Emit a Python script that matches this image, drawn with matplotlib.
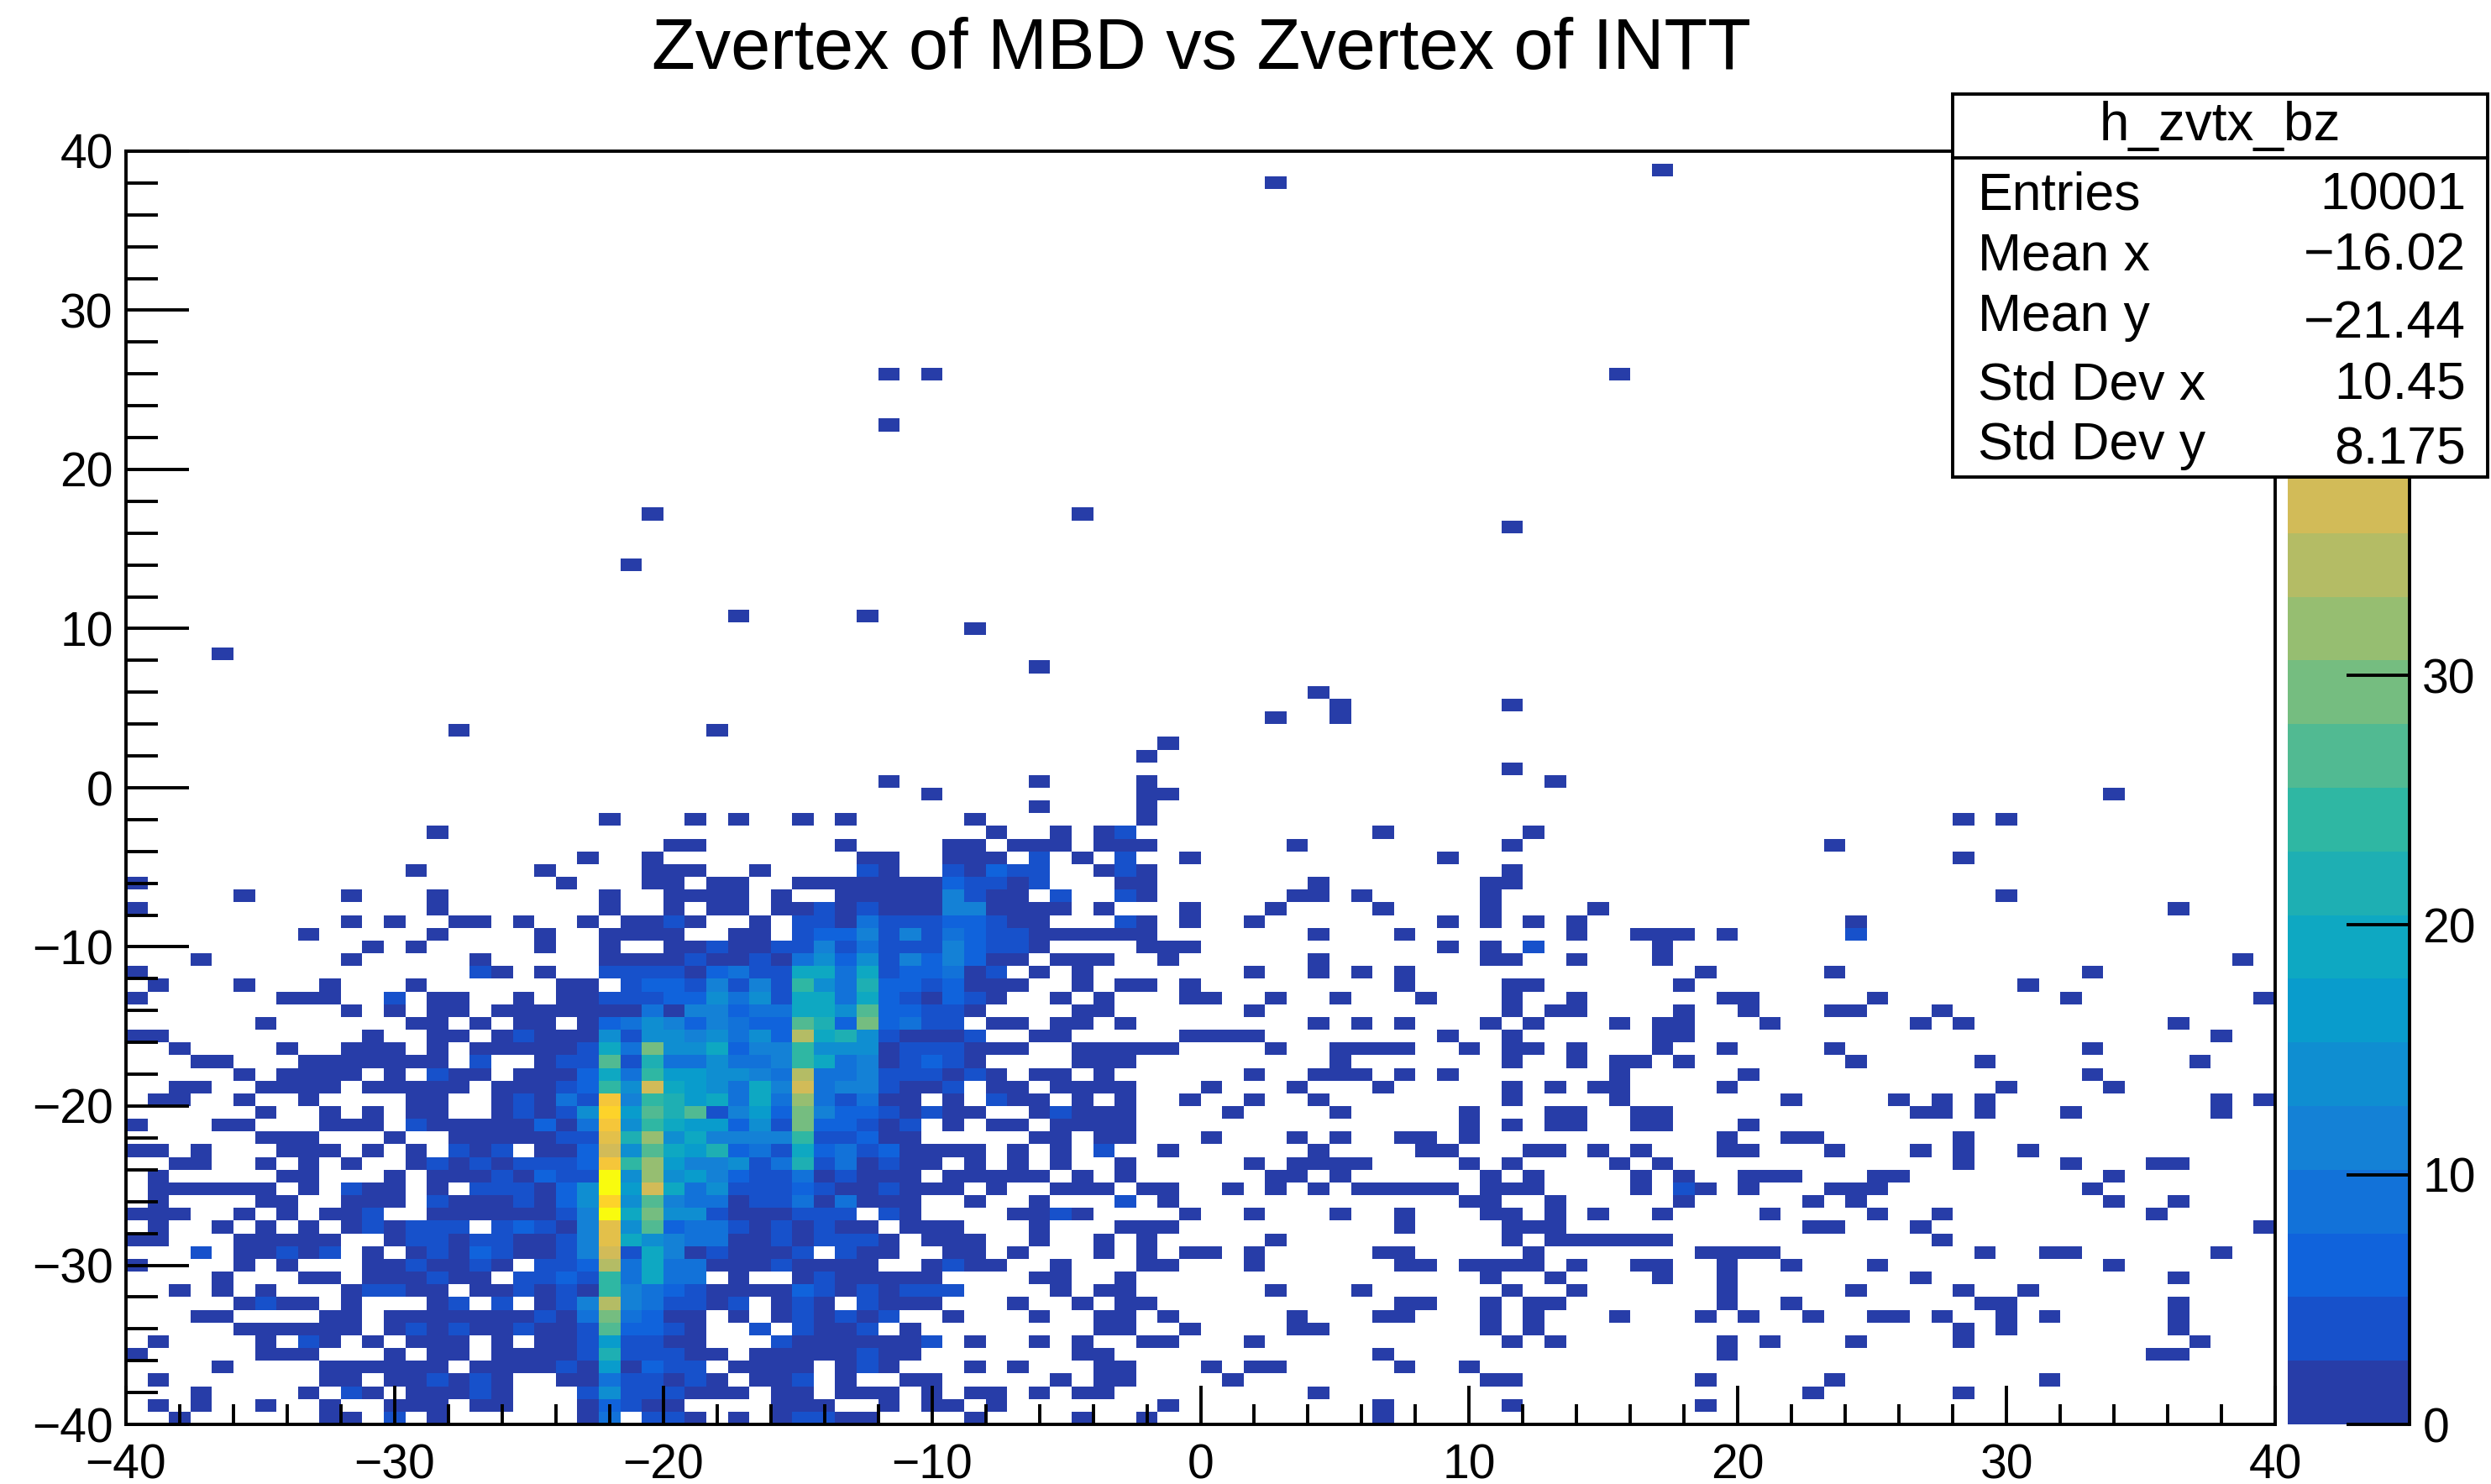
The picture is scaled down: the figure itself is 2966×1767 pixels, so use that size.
import numpy as np
import matplotlib
matplotlib.use('Agg')
import matplotlib.pyplot as plt
from matplotlib.colors import BoundaryNorm, LinearSegmentedColormap, ListedColormap
from matplotlib.patches import Rectangle
from matplotlib.ticker import MultipleLocator

plt.rcParams['font.family'] = ['Liberation Sans', 'DejaVu Sans']

W, H = 2966, 1767

title = 'Zvertex of MBD vs Zvertex of INTT'
stats_name = 'h_zvtx_bz'
stats_labels = ['Entries', 'Mean x', 'Mean y', 'Std Dev x', 'Std Dev y']
stats_values = ['10001', '\u221216.02', '\u221221.44', '10.45', '8.175']

nbins = 100
zmax = 51.0
ncont = 20

# colour band of every bin, columns 0-39, rows 45 down to 0
# . empty, 0-9 and a-j band number
dense_rows = [
    ".......... .......... .....00... ...0....00",
    ".......... .......... .0..0..... ....00..00",
    ".......... ...0.....0 ....000..0 ....10..10",
    "0......... .......... 0...00.00. .000000021",
    ".....0.... 0...0..... ..0..0000. 0..0000041",
    "0......... ....0..... ..0..0.00. 0010100044",
    ".......... 0.0..00.0. .0.0010..0 .110311122",
    "........0. ....0....0 ..0000..00 .122414132",
    ".......... .0.0.....0 ..0..00100 1141311142",
    "...0...... 0.....0... ..00001001 0352514242",
    "0......... ......10.0 ..11110231 1773712230",
    ".0...0...0 ...0...... 00.1221414 1953822120",
    "0......000 ..1.00..0. 0011122535 1773721021",
    ".......... 0.0.00.000 0000304423 3775a22110",
    "......0... ...00.0.00 .023542432 2a82b2311.",
    "00........ .0..00.010 0051554535 2d78510001",
    "..0....0.. 000.0.0000 0173b55724 4955501110",
    "...00...00 00000.1..0 11a1833533 4973401210",
    ".....0.000 0.0.100.00 0273966554 3d33411101",
    "..00..0000 .00000.000 1295e76537 4e3441001.",
    ".00..0..0. ...00..010 31g4986737 3c31300.0.",
    "......0..0 .0.00..010 15h6a8a146 2b42210100",
    "0...00...0 00.1000002 03g5976625 1b22101.0.",
    "......000. ..0..00000 11f8c57444 4911200...",
    "00.0...000 .0.0.101.0 02e5a76823 1723120000",
    "..00..0.0. 0..0101011 12g9c64451 38130100.0",
    ".0.....00. ..0.000102 11j5c56421 1301000.00",
    ".000000.0. 100.0.1110 25j6e73511 121001000.",
    ".0....00.. 000.100010 25h5a43301 1303000..0",
    "000..0.0.0 01..000000 14j7b55100 0111.10...",
    ".0..0.0.0. 010111.121 04f5a23310 10100.000.",
    "00...00000 ..01101100 14f7543300 101110.000",
    "...1.00101 .0.0102100 14e1740100 01.100..00",
    "0....0.0.. .0010010.1 12d3733000 10000..010",
    "....0...00 .000100.11 2193733.0. .0100000..",
    "..0.0.0... 01100.0010 1094321000 021010111.",
    ".....0100. 0...01.1.0 14d431101. 010.1000..",
    "...00....0 0.00000001 03b3200.0. 010101..0.",
    ".....00000 0.01010010 01a2210..1 .1001.0...",
    ".0....0.10 .0.000.0.0 0161100... 10000001.0",
    "0.....000. ..0.00.000 01811100.0 0000100...",
    "....0....0 00000.0000 1060211.00 00.010...0",
    ".0.......0 0.001010.. 00311010.0 01.0..00..",
    "...0....0. 10.00010.. .15111000. 00.000.0.0",
    ".0.0..0..0 ..000.00.. .02100.... 000..0.00.",
    "..0......0 0.1.0..... .03.110.0. 01100....0",
]

# occupied bins in the sparse part, columns 40-99, by row
sparse_rows = {
    45: [41, 42, 43, 45, 46, 47, 54, 64, 79],
    44: [40, 42, 44, 46, 49, 61, 85],
    43: [40, 41, 42, 45, 46, 47, 64],
    42: [40, 41, 42, 46, 47, 55, 63, 64],
    41: [40, 41, 43, 46, 47, 54, 55, 57, 63, 87],
    40: [40, 41, 42, 43, 45, 49, 53, 58, 63, 68, 95],
    39: [40, 41, 42, 46, 47, 49, 52, 61, 63, 65, 67, 80],
    38: [40, 41, 42, 43, 44, 45, 46, 47, 55, 59, 67, 70, 71, 72, 74, 80],
    37: [40, 41, 42, 47, 48, 49, 61, 63, 65, 71],
    36: [40, 41, 43, 44, 45, 48, 55, 63, 64, 67, 71, 98],
    35: [40, 42, 44, 52, 55, 57, 59, 73, 79, 91],
    34: [40, 41, 44, 46, 47, 49, 59, 64, 65, 72, 88],
    33: [40, 43, 45, 49, 50, 53, 56, 60, 64, 67, 74, 75, 81, 90, 99],
    32: [44, 45, 52, 64, 66, 67, 72, 75, 79, 80, 84],
    31: [40, 41, 43, 44, 46, 55, 57, 59, 63, 65, 69, 71, 72, 76, 83, 85, 95],
    30: [42, 43, 49, 50, 51, 52, 61, 64, 71, 72, 97],
    29: [40, 41, 44, 45, 46, 47, 48, 53, 56, 57, 58, 59, 62, 64, 65, 67, 71, 74, 79, 91],
    28: [44, 45, 46, 56, 64, 67, 69, 70, 72, 80, 86, 96],
    27: [40, 42, 43, 45, 52, 55, 56, 57, 59, 61, 69, 75, 91],
    26: [40, 41, 43, 44, 45, 46, 50, 54, 58, 64, 66, 68, 69, 74, 87, 92],
    25: [40, 41, 42, 44, 46, 49, 52, 55, 64, 69, 77, 82, 84, 86, 97, 99],
    24: [42, 43, 44, 45, 46, 51, 56, 62, 66, 67, 70, 71, 83, 84, 86, 90, 97],
    23: [40, 41, 43, 44, 45, 46, 62, 64, 66, 67, 70, 71, 75],
    22: [42, 43, 45, 46, 50, 54, 56, 59, 60, 62, 74, 77, 78, 85],
    21: [41, 43, 45, 48, 55, 60, 61, 65, 66, 68, 70, 74, 75, 79, 83, 85, 88],
    20: [41, 43, 46, 52, 54, 55, 56, 57, 62, 64, 69, 71, 85, 90, 94, 95],
    19: [40, 41, 42, 44, 46, 53, 54, 56, 63, 65, 70, 72, 75, 76, 77, 81, 82, 92],
    18: [40, 43, 44, 45, 47, 48, 51, 53, 55, 57, 58, 59, 60, 61, 63, 64, 65, 70, 72, 73, 75, 79, 80, 81, 91],
    17: [42, 46, 48, 62, 63, 66, 72, 78, 80, 92, 95],
    16: [41, 42, 43, 44, 49, 52, 56, 59, 63, 64, 66, 68, 71, 76, 81, 84, 94],
    15: [42, 46, 47, 48, 59, 64, 65, 66, 78, 79, 83, 99],
    14: [42, 45, 47, 53, 64, 66, 67, 68, 69, 70, 71, 84],
    13: [41, 45, 47, 49, 50, 52, 58, 59, 65, 73, 74, 75, 76, 86, 89, 90, 97],
    12: [40, 43, 47, 48, 52, 59, 60, 62, 63, 64, 65, 67, 70, 71, 74, 77, 81, 92],
    11: [42, 43, 46, 63, 66, 71, 74, 83, 95],
    10: [43, 45, 46, 53, 57, 64, 67, 74, 80, 85, 88],
    9: [41, 44, 46, 47, 59, 60, 63, 65, 66, 74, 77, 86, 87, 95],
    8: [42, 45, 46, 48, 54, 58, 59, 63, 65, 69, 73, 75, 78, 81, 82, 84, 87, 89, 95],
    7: [45, 46, 49, 54, 55, 63, 65, 85, 87, 95],
    6: [42, 44, 47, 48, 52, 64, 66, 74, 76, 80, 85, 96],
    5: [44, 45, 58, 74, 94, 95],
    4: [41, 45, 46, 50, 52, 53, 59, 62],
    3: [43, 45, 46, 51, 63, 64, 73, 79, 89],
    2: [40, 42, 44, 45, 55, 78, 85],
    1: [40, 48, 58, 64, 73],
    0: [44, 47, 58],
}

# occupied bins above the dense part, any column
top_rows = {
    98: [71],
    97: [53],
    82: [35, 37, 69],
    78: [35],
    71: [24, 44],
    70: [64],
    67: [23],
    63: [28, 34],
    62: [39],
    60: [4],
    59: [42],
    57: [55],
    56: [56, 64],
    55: [53, 56],
    54: [15, 27],
    53: [48],
    52: [47],
    51: [64],
    50: [35, 42, 47, 66],
    49: [37, 47, 48, 92],
    48: [42, 47],
    47: [22, 26, 28, 31, 33, 39, 47, 85, 87],
    46: [14, 40, 43, 45, 46, 58, 65],
}

# sparse bins that sit in a higher band: row, column, band
bright_bins = [
    (44, 42, 1), (44, 46, 1), (43, 40, 2), (43, 41, 1), (43, 42, 1), (43, 46, 1),
    (42, 40, 1), (42, 42, 1), (41, 43, 1), (41, 46, 1), (39, 40, 1), (39, 46, 1),
    (38, 40, 1), (38, 41, 1), (38, 80, 1), (37, 40, 1), (37, 41, 1), (37, 65, 1),
    (35, 40, 1), (25, 40, 1), (24, 43, 1), (21, 45, 1), (18, 72, 1), (17, 46, 1),
    (16, 43, 1), (46, 46, 1),
]

band_chars = '0123456789abcdefghij'
band_width = zmax / ncont

bands = np.full((nbins, nbins), -1)
for i, line in enumerate(dense_rows):
    line = line.replace(' ', '')
    for col, ch in enumerate(line):
        if ch != '.':
            bands[45 - i, col] = band_chars.index(ch)
for row, cols in sparse_rows.items():
    bands[row, cols] = 0
for row, cols in top_rows.items():
    bands[row, cols] = 0
for row, col, b in bright_bins:
    bands[row, col] = b

counts = np.ma.masked_less((bands + 0.5) * band_width, 0)

# ROOT kBird palette, each contour takes the colour at the top of its band
bird = LinearSegmentedColormap.from_list('bird', [
    (0.2082, 0.1664, 0.5293), (0.0592, 0.3599, 0.8684), (0.0780, 0.5041, 0.8385),
    (0.0232, 0.6419, 0.7914), (0.1802, 0.7178, 0.6425), (0.5301, 0.7492, 0.4662),
    (0.8186, 0.7328, 0.3499), (0.9956, 0.7862, 0.1968), (0.9764, 0.9832, 0.0539)])
cmap = ListedColormap([bird((k + 1) / ncont) for k in range(ncont)])
cmap.set_bad('white')
levels = np.linspace(0, zmax, ncont + 1)
norm = BoundaryNorm(levels, ncont)

edges = np.linspace(-40, 40, nbins + 1)

fig = plt.figure(figsize=(W / 100, H / 100), dpi=100)
ax = fig.add_axes([150 / W, 1 - 1696 / H, (2709 - 150) / W, (1696 - 180) / H])
mesh = ax.pcolormesh(edges, edges, counts, cmap=cmap, norm=norm, antialiased=False)
ax.set_xlim(-40, 40)
ax.set_ylim(-40, 40)
ax.xaxis.set_major_locator(MultipleLocator(10))
ax.yaxis.set_major_locator(MultipleLocator(10))
ax.xaxis.set_minor_locator(MultipleLocator(2))
ax.yaxis.set_minor_locator(MultipleLocator(2))
ax.tick_params(axis='x', which='major', direction='in', length=33, width=2.8, labelsize=41, pad=16)
ax.tick_params(axis='x', which='minor', direction='in', length=17, width=2.8)
ax.tick_params(axis='y', which='major', direction='in', length=54, width=2.8, labelsize=41, pad=11)
ax.tick_params(axis='y', which='minor', direction='in', length=27, width=2.8)
for s in ax.spines.values():
    s.set_linewidth(2.8)

cax = fig.add_axes([2724 / W, 1 - 1696 / H, (2869 - 2724) / W, (1696 - 180) / H])
cb = fig.colorbar(mesh, cax=cax, ticks=[0, 10, 20, 30])
cb.outline.set_visible(False)
cax.minorticks_off()
cax.tick_params(axis='y', direction='in', length=54, width=2.8, labelsize=41, pad=11, right=True)
cax.axvline(1, color='k', lw=2.8, clip_on=False)

# overlay in picture pixels for the title and the stats box
over = fig.add_axes([0, 0, 1, 1], zorder=10)
over.set_xlim(0, W)
over.set_ylim(H, 0)
over.axis('off')
over.text(1430, 82, title, ha='center', va='baseline', fontsize=61)
over.add_patch(Rectangle((2325, 112), 2962 - 2325, 568 - 112, fc='white', ec='k', lw=2.8))
over.plot([2325, 2962], [188, 188], color='k', lw=2.8)
over.text(2643, 167, stats_name, ha='center', va='baseline', fontsize=46)
label_y = [249, 322, 394, 475, 547]
value_y = [249, 322, 402, 475, 552]
for lab, val, ly, vy in zip(stats_labels, stats_values, label_y, value_y):
    over.text(2355, ly, lab, ha='left', va='baseline', fontsize=45)
    over.text(2936, vy, val, ha='right', va='baseline', fontsize=45)

fig.savefig('out.png', dpi=100)
